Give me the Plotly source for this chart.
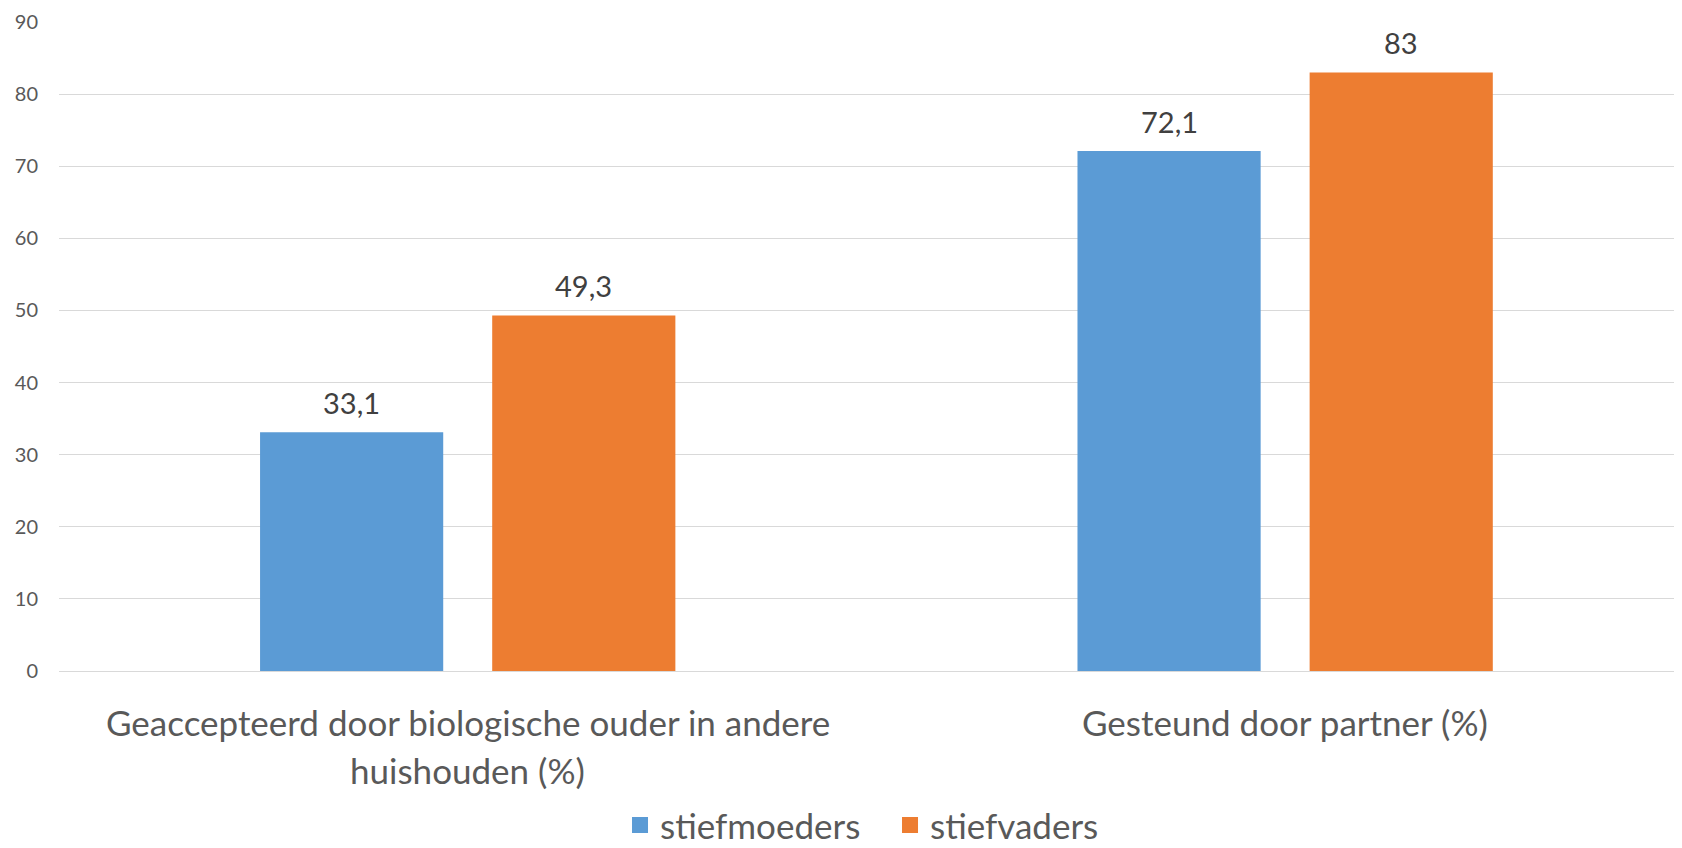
import plotly.graph_objects as go

categories = ["Geaccepteerd door biologische ouder in andere huishouden (%)", "Gesteund door partner (%)"]
category_lines = [["Geaccepteerd door biologische ouder in andere", "huishouden (%)"], ["Gesteund door partner (%)"]]
series_names = ["stiefmoeders", "stiefvaders"]
stiefmoeders = [33.1, 72.1]
stiefvaders = [49.3, 83.0]
value_labels = [["33,1", "72,1"], ["49,3", "83"]]
colors = ["#5B9BD5", "#ED7D31"]
y_ticks = [0, 10, 20, 30, 40, 50, 60, 70, 80, 90]

FONT = "Lato"
fig = go.Figure()
series = [stiefmoeders, stiefvaders]
for i, (name, vals) in enumerate(zip(series_names, series)):
    fig.add_trace(go.Bar(x=categories, y=vals, name=name, marker_color=colors[i],
                         marker_line_width=0, showlegend=False, hoverinfo="y+name"))
for i, name in enumerate(series_names):
    fig.add_trace(go.Scatter(x=[None], y=[None], mode="markers", name=name,
                             marker=dict(symbol="square", size=20, color=colors[i]),
                             showlegend=True))

annotations = []
offsets = [-116, 116]
for i, vals in enumerate(series):
    for j, v in enumerate(vals):
        annotations.append(dict(x=categories[j], y=v, xref="x", yref="y", text=value_labels[i][j],
                                showarrow=False, xshift=offsets[i], yshift=30, yanchor="middle",
                                font=dict(family=FONT, size=29, color="#404040")))
for j, lines in enumerate(category_lines):
    for k, line in enumerate(lines):
        annotations.append(dict(x=categories[j], y=0, xref="x", yref="paper", text=line,
                                showarrow=False, yanchor="middle", yshift=-51 - 48 * k,
                                font=dict(family=FONT, size=35, color="#595959")))

fig.update_layout(
    width=1674, height=840,
    margin=dict(l=51, r=0, t=14, b=177),
    paper_bgcolor="white", plot_bgcolor="white",
    barmode="group", bargap=0.432, bargroupgap=0.211,
    font=dict(family=FONT, color="#595959"),
    annotations=annotations,
    legend=dict(orientation="h", x=0.3656, xanchor="left", xref="container",
                y=0.027, yanchor="middle", yref="container",
                entrywidth=225, entrywidthmode="pixels",
                font=dict(family=FONT, size=35, color="#595959")),
    xaxis=dict(showticklabels=False, showgrid=False, zeroline=False, showline=False,
               range=[-0.5, 1.4855], fixedrange=True),
    yaxis=dict(range=[0, 90], tickvals=y_ticks, showgrid=True, gridcolor="#D9D9D9", gridwidth=1,
               zeroline=True, zerolinecolor="#D9D9D9", zerolinewidth=1, showline=False,
               tickfont=dict(family=FONT, size=20, color="#595959"), ticks="", ticklabelstandoff=20),
)
fig.write_html("out.html")
